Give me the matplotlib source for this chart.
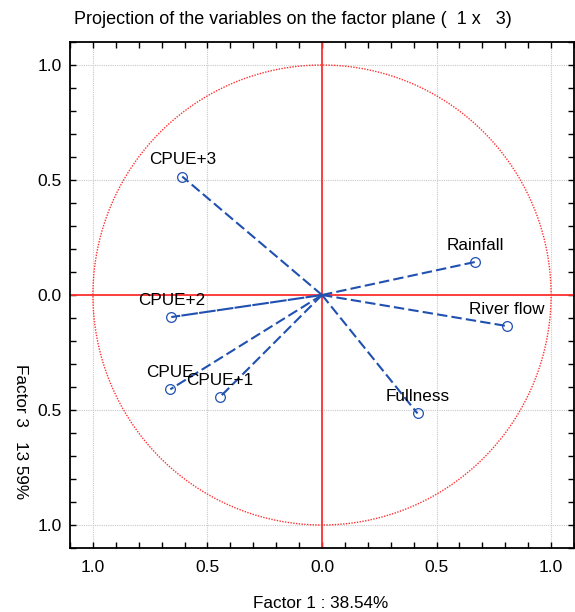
import numpy as np
import matplotlib.pyplot as plt
from matplotlib.ticker import MultipleLocator, FixedLocator, FixedFormatter

plt.rcParams['font.family'] = ['Liberation Sans', 'DejaVu Sans']

# ---- data (Factor 1 vs Factor 3) ----
variables = ["CPUE+3", "Rainfall", "River flow", "Fullness", "CPUE+2", "CPUE", "CPUE+1"]
factor1 = [-0.61, 0.67, 0.807, 0.417, -0.658, -0.662, -0.447]
factor3 = [0.515, 0.144, -0.135, -0.515, -0.096, -0.41, -0.445]
tick_vals = [-1.0, -0.5, 0.0, 0.5, 1.0]
tick_labels = ["1.0", "0.5", "0.0", "0.5", "1.0"]   # minus signs lost in the original

fig = plt.figure(figsize=(5.75, 6.12), dpi=100)
ax = fig.add_axes([70/575, 64/612, 504/575, 506/612])

# unit circle + axes cross
t = np.linspace(0, 2*np.pi, 400)
ax.plot(np.cos(t), np.sin(t), color='#ff3030', lw=1.0, ls=(0, (1, 1)), zorder=2)
ax.axhline(0, color='#ff3030', lw=1.3, zorder=2)
ax.axvline(0, color='#ff3030', lw=1.3, zorder=2)

blue = '#2050b0'
for name, x, y in zip(variables, factor1, factor3):
    ls = (0, (5, 2)) if name != "CPUE+2" else (0, (8, 0.6))
    ax.plot([0, x], [0, y], color=blue, lw=1.5, ls=ls, zorder=3)
    ax.plot(x, y, 'o', mfc='none', mec=blue, ms=7, mew=0.9, zorder=4)
    ax.annotate(name, (x, y), xytext=(0, 12), textcoords='offset points',
                ha='center', va='center', fontsize=12.3, color='black')

ax.set_xlim(-1.1, 1.1)
ax.set_ylim(-1.1, 1.1)
ax.xaxis.set_major_locator(FixedLocator(tick_vals))
ax.xaxis.set_major_formatter(FixedFormatter(tick_labels))
ax.yaxis.set_major_locator(FixedLocator(tick_vals))
ax.yaxis.set_major_formatter(FixedFormatter(tick_labels))
ax.xaxis.set_minor_locator(MultipleLocator(0.1))
ax.yaxis.set_minor_locator(MultipleLocator(0.1))
ax.tick_params(which='both', direction='in', top=True, right=True, length=4, width=1)
ax.tick_params(which='major', labelsize=12.5)
ax.tick_params(axis='x', which='major', pad=9)
ax.tick_params(axis='y', which='major', pad=6)
ax.grid(True, which='major', color='#c8c8c8', ls=(0, (1, 1)), lw=0.8)
ax.set_axisbelow(True)
for s in ax.spines.values():
    s.set_linewidth(1.3)

fig.text(0.51, 1 - 20/612, "Projection of the variables on the factor plane (  1 x   3)",
         ha='center', va='center', fontsize=13)
fig.text(321/575, 1 - 603/612, "Factor 1 : 38.54%", ha='center', va='center', fontsize=12.3)
fig.text(20/575, 1 - 432/612, "Factor 3   13 59%", ha='center', va='center',
         rotation=-90, fontsize=12.3)

fig.savefig("out.png", dpi=100)
